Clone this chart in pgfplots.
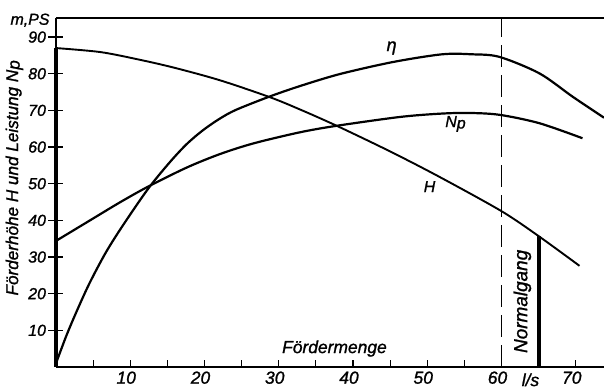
\documentclass[border=0pt]{standalone}
\usepackage{fontspec}
\setmainfont{Liberation Sans}[FakeBold=1.2]
\usepackage{pgfplots}
\pgfplotsset{compat=1.18}

% pump characteristic: head H, efficiency eta, power Np over flow rate
\pgfplotstableread{
q    h
0    87.0
6    85.9
11.3 83.8
16.0 81.6
22.1 78.2
28.8 73.6
32.8 70.3
37.8 65.8
45.0 58.8
51.7 51.8
60.0 42.5
65.0 35.7
70.5 27.6
}\headdata

\pgfplotstableread{
q    eta
0    1.0
1.35 8.3
2.7  14.8
4.5  22.8
6.7  31.2
9.0  38.6
12.4 48.6
15.3 55.8
17.6 60.8
19.8 64.6
22.1 67.8
24.3 70.2
28.8 73.8
32.8 76.6
38.2 79.9
45.4 83.2
52.0 85.3
56.0 85.3
59.7 84.6
65.1 80.1
69.6 73.7
73.8 68.0
}\etadata

\pgfplotstableread{
q    np
0    34.4
4.5  39.9
8.6  44.9
12.4 49.2
17.6 54.4
22.1 58.1
26.6 61.0
32.8 64.0
37.8 65.8
46.3 68.2
51.7 69.1
55.5 69.3
59.7 68.8
65.1 66.5
70.9 62.4
}\powerdata

\begin{document}
\begin{tikzpicture}
\path[use as bounding box] (-56bp,-23bp) rectangle (548bp,367bp);
\begin{axis}[
  at={(0,0)}, anchor=south west,
  scale only axis, width=548bp, height=349bp,
  xmin=0, xmax=73.8, ymin=0, ymax=95.2,
  axis x line*=bottom, axis y line*=left,
  axis line style={line width=1.6bp, -},
  clip=false,
  xtick={5,10,...,70},
  xticklabels={,10,,20,,30,,40,,50,,60,,70},
  xtick align=inside,
  major tick length=7bp,
  ytick=\empty,
  extra y ticks={10,20,...,90},
  extra y tick style={tick align=center, major tick length=15bp},
  tick style={line width=1.2bp, black},
  /pgf/number format/assume math mode=true,
  xticklabel style={font=\fontsize{17.5}{19}\selectfont\itshape, xshift=-4bp, yshift=-1bp},
  yticklabel style={font=\fontsize{16}{18}\selectfont\itshape, xshift=1bp},
]
% top border
\draw[line width=1.2bp] (axis cs:0,95.2) -- (axis cs:73.8,95.2);
% thick line at zero delivery up to the shut-off head
\draw[line width=3.5bp] (axis cs:0,0) -- (axis cs:0,87);
% rated point
\draw[line width=1.3bp, dash pattern=on 22bp off 8bp] (axis cs:60,0) -- (axis cs:60,95.2);
\draw[line width=4bp] (axis cs:65,0) -- (axis cs:65,35.7);

\addplot[line width=1.9bp, smooth, black] table[x=q, y=h] {\headdata};
\addplot[line width=2.2bp, smooth, black] table[x=q, y=eta] {\etadata};
\addplot[line width=2.2bp, smooth, black] table[x=q, y=np] {\powerdata};

\node[font=\fontsize{18}{20}\selectfont\itshape] at (axis cs:45.2,87) {η};
\node[font=\fontsize{16}{18}\selectfont\itshape] at (axis cs:53.8,66.3) {N\raisebox{-1.5bp}{p}};
\node[font=\fontsize{16}{18}\selectfont\itshape] at (axis cs:50.3,49.2) {H};
\node[font=\fontsize{17.5}{19}\selectfont\itshape, anchor=base] at (axis cs:37.5,3.8) {Fördermenge};
\node[font=\fontsize{19}{21}\selectfont\itshape, rotate=90] at (axis cs:62.8,17.9) {Normalgang};
\node[font=\fontsize{17.5}{19}\selectfont\itshape] at (axis cs:63.9,-3.5) {l/s};
\node[font=\fontsize{16}{18}\selectfont\itshape] at (axis cs:-3.5,94.6) {m,PS};
\node[font=\fontsize{17.2}{19}\selectfont\itshape, rotate=90] at (axis cs:-5.6,51.6) {Förderhöhe H und Leistung N\raisebox{-1.5bp}{p}};
\end{axis}
\end{tikzpicture}
\end{document}
